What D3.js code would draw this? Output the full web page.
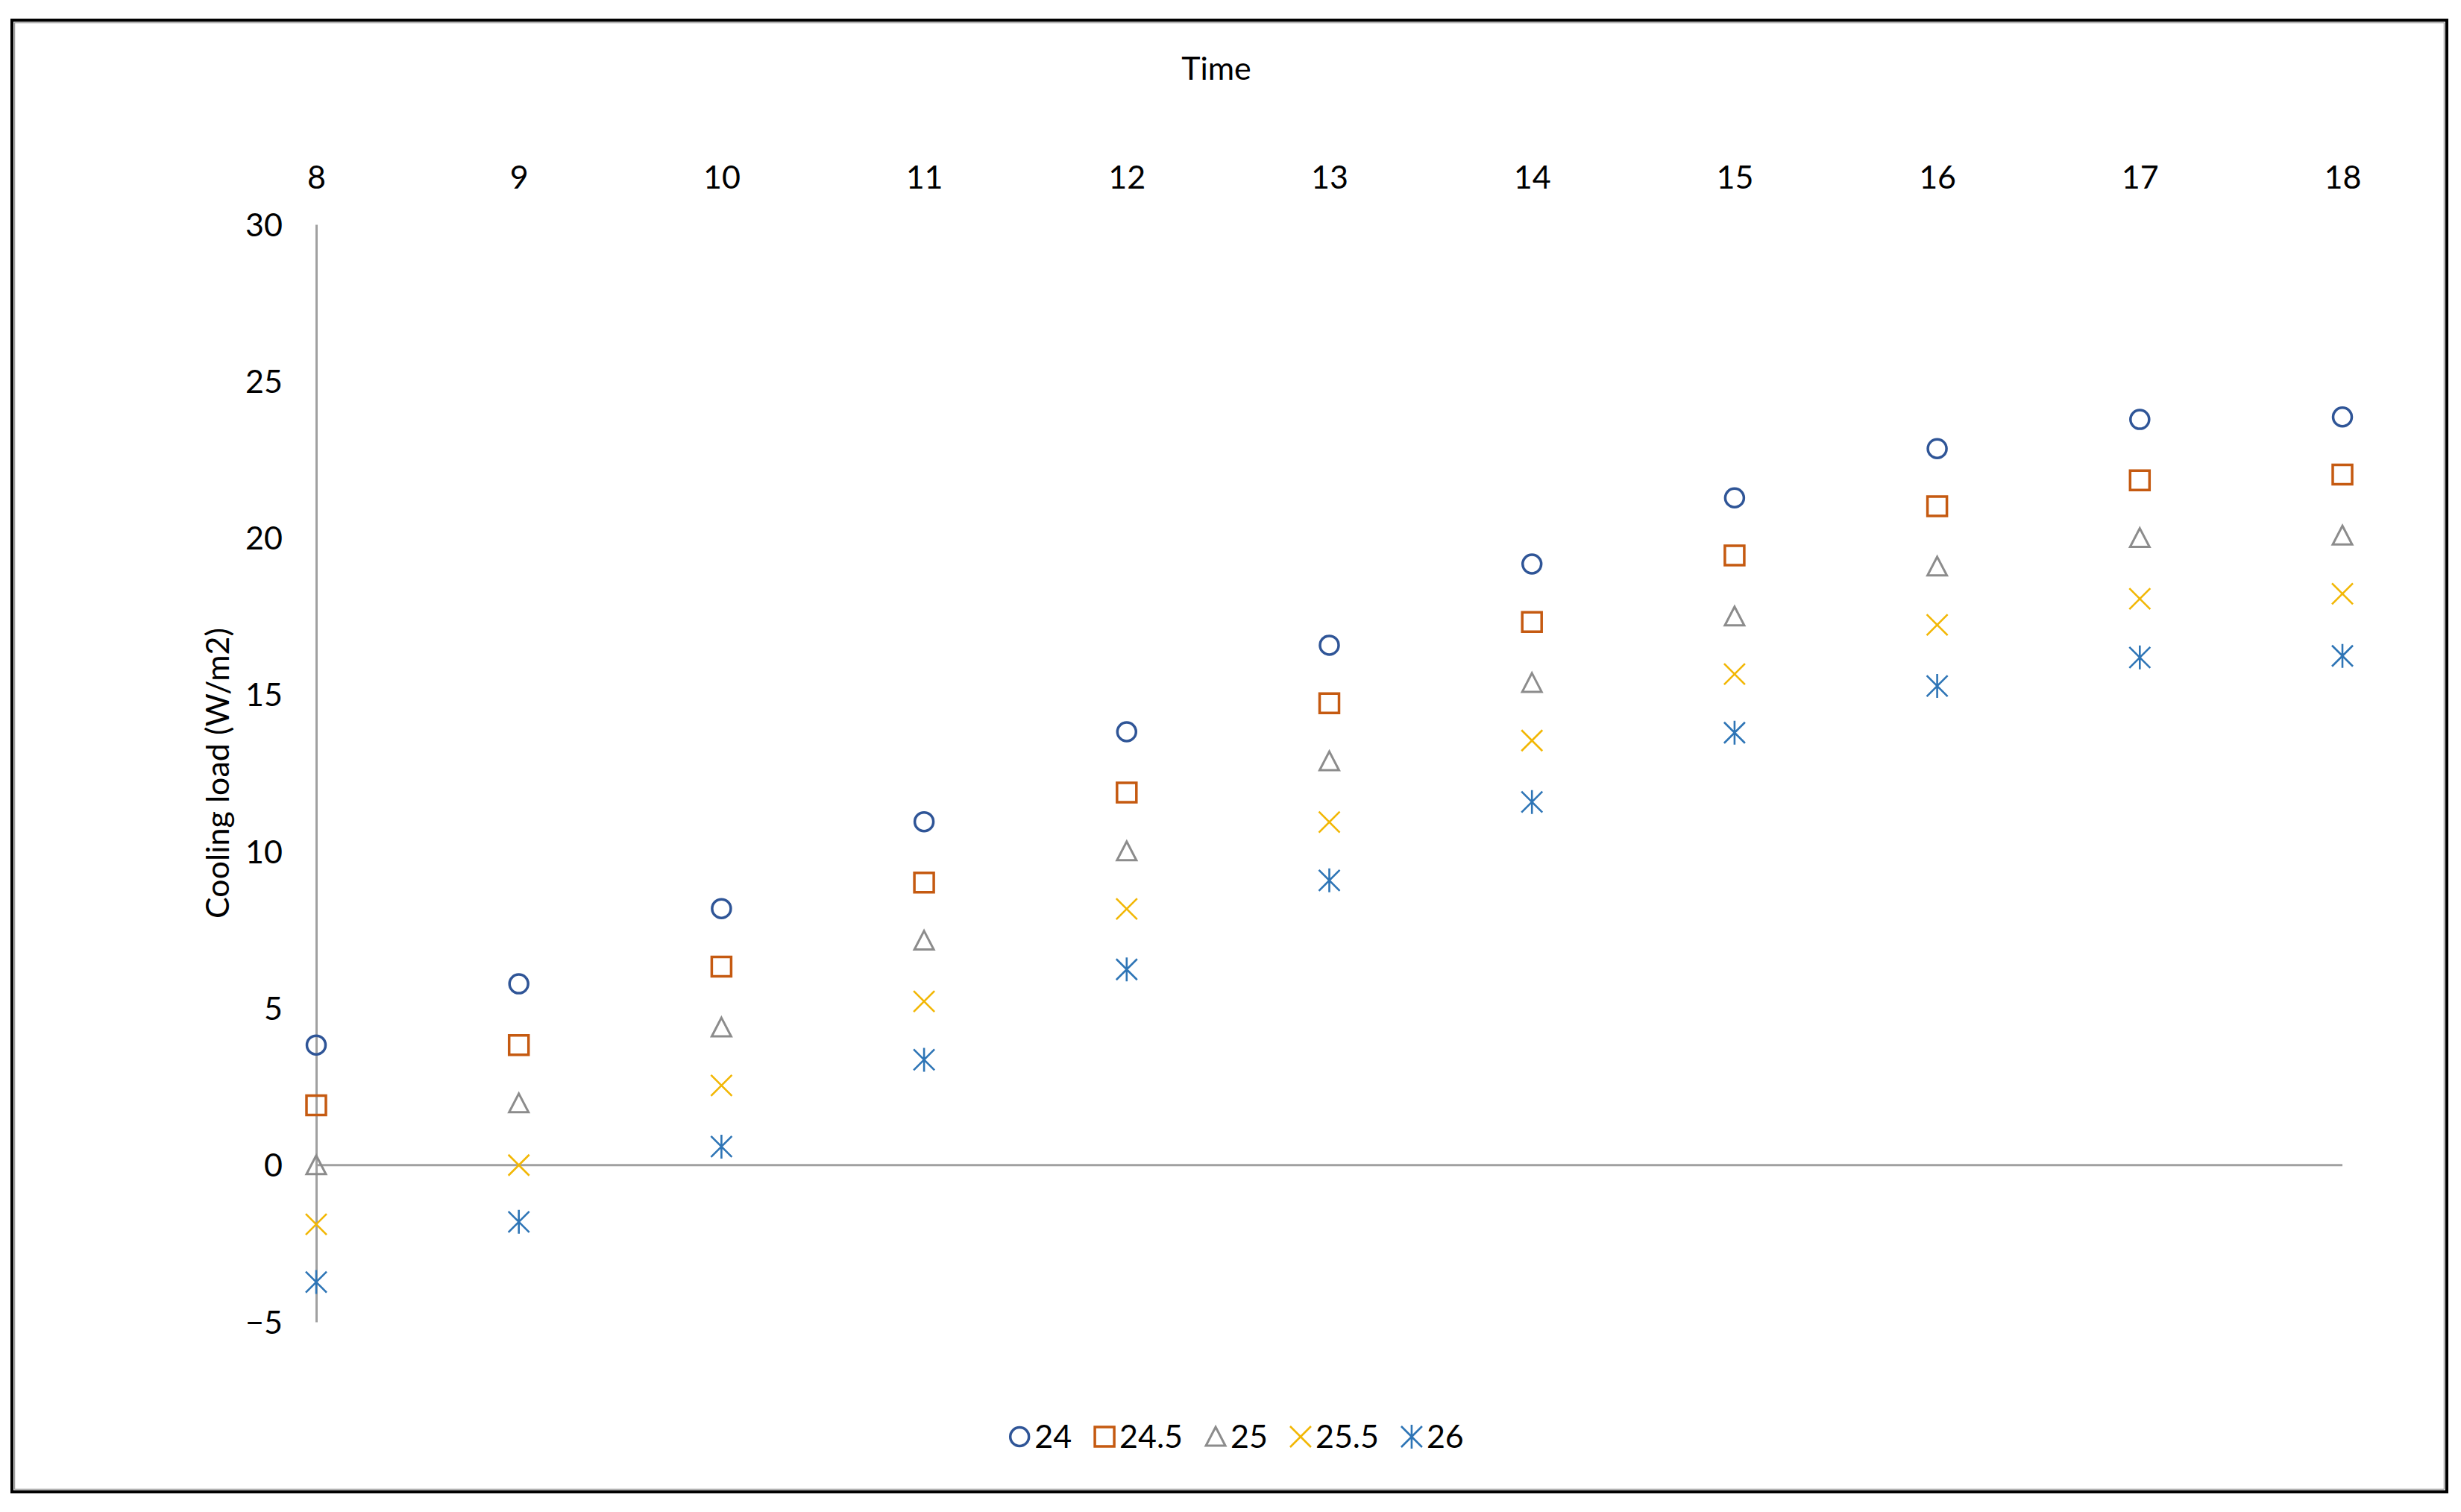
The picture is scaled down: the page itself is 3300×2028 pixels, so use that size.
<!DOCTYPE html>
<html>
<head>
<meta charset="utf-8">
<script src="https://cdn.jsdelivr.net/npm/d3@7"></script>
<style>
  html, body { margin: 0; padding: 0; background: #fff; }
  svg { display: block; }
  text { font-family: Lato, "Open Sans", "Liberation Sans", sans-serif; fill: #000; }
</style>
</head>
<body>
<svg id="chart" width="3300" height="2028"></svg>
<script>
// ---------------- data ----------------
const hours = [8, 9, 10, 11, 12, 13, 14, 15, 16, 17, 18];
const seriesNames = ["24", "24.5", "25", "25.5", "26"];
const s24   = [3.83, 5.78, 8.18, 10.95, 13.82, 16.58, 19.17, 21.28, 22.85, 23.78, 23.86];
const s24_5 = [1.91, 3.83, 6.33, 9.01, 11.88, 14.73, 17.32, 19.44, 21.01, 21.84, 22.02];
const s25   = [0.00, 1.97, 4.39, 7.16, 10.01, 12.88, 15.38, 17.50, 19.09, 20.00, 20.08];
const s25_5 = [-1.89, 0.00, 2.54, 5.22, 8.17, 10.94, 13.54, 15.66, 17.23, 18.06, 18.22];
const s26   = [-3.73, -1.81, 0.59, 3.36, 6.24, 9.08, 11.58, 13.79, 15.28, 16.19, 16.24];
const yTicks = [-5, 0, 5, 10, 15, 20, 25, 30];
const xTitle = "Time";
const yTitle = "Cooling load (W/m2)";

const seriesValues = [s24, s24_5, s25, s25_5, s26];
const shapes = ["circle", "square", "triangle", "x", "asterisk"];
const colors = ["#2F5597", "#C55A11", "#8C8C8C", "#F2B705", "#2E75B6"];

// ---------------- layout ----------------
const svg = d3.select("#chart");
const x = d3.scaleLinear().domain([8, 18]).range([424, 3141]);
const y = d3.scaleLinear().domain([-5, 30]).range([1773, 301]);
const FONT = 43;

// border
svg.append("rect").attr("x", 16).attr("y", 27).attr("width", 3265).attr("height", 1974)
  .attr("fill", "#fff").attr("stroke", "#000").attr("stroke-width", 4);
svg.append("rect").attr("x", 19.5).attr("y", 30.5).attr("width", 3258).attr("height", 1967)
  .attr("fill", "none").attr("stroke", "#9a9a9a").attr("stroke-width", 1.5);

// y axis (line at x=8, no ticks)
const yAxis = d3.axisLeft(y).tickValues(yTicks).tickSize(0).tickPadding(45)
  .tickFormat(d3.format("d"));
const gy = svg.append("g").attr("transform", `translate(${x(8)},0)`).call(yAxis);
gy.select(".domain").attr("stroke", "#A0A0A0").attr("stroke-width", 3);
gy.selectAll(".tick text").attr("font-size", FONT).attr("font-family", "Lato, sans-serif")
  .attr("fill", "#000").attr("dy", "0.35em");

// x axis line at y=0
svg.append("line").attr("x1", x(8)).attr("x2", x(18)).attr("y1", y(0)).attr("y2", y(0))
  .attr("stroke", "#A0A0A0").attr("stroke-width", 3);

// x tick labels at top
const xAxis = d3.axisTop(x).tickValues(hours).tickSize(0).tickPadding(0).tickFormat(d3.format("d"));
const gx = svg.append("g").attr("transform", `translate(0,238)`).call(xAxis);
gx.select(".domain").remove();
gx.selectAll(".tick text").attr("font-size", FONT).attr("font-family", "Lato, sans-serif")
  .attr("fill", "#000").attr("dy", "0.35em").attr("y", 0);

// titles
svg.append("text").attr("x", 1631).attr("y", 92).attr("dy", "0.35em")
  .attr("text-anchor", "middle").attr("font-size", FONT).text(xTitle);
svg.append("text").attr("transform", "translate(292,1037) rotate(-90)")
  .attr("dy", "0.35em").attr("text-anchor", "middle").attr("font-size", FONT).text(yTitle);

// ---------------- markers ----------------
function markerPath(shape) {
  const h = 13;
  switch (shape) {
    case "circle": { const p = d3.path(); p.moveTo(12.5, 0); p.arc(0, 0, 12.5, 0, 2 * Math.PI); p.closePath(); return p.toString(); }
    case "square": return `M${-h},${-h}H${h}V${h}H${-h}Z`;
    case "triangle": return `M0,${-h}L${h},${h - 1}H${-h}Z`;
    case "x": return `M${-14},${-14}L14,14M14,${-14}L${-14},14`;
    case "asterisk": return `M${-14},${-14}L14,14M14,${-14}L${-14},14M0,${-16}V16`;
  }
}
const strokeW = { circle: 3.5, square: 3.5, triangle: 3, x: 2.6, asterisk: 2.6 };

const points = [];
seriesValues.forEach((vals, si) => {
  vals.forEach((v, i) => points.push({ si, hour: hours[i], value: v }));
});

svg.append("g").selectAll("path").data(points).join("path")
  .attr("transform", d => `translate(${x(d.hour)},${y(d.value)})`)
  .attr("d", d => markerPath(shapes[d.si]))
  .attr("fill", "none")
  .attr("stroke", d => colors[d.si])
  .attr("stroke-width", d => strokeW[shapes[d.si]])
  .attr("stroke-linejoin", "miter");

// ---------------- legend ----------------
const legend = svg.append("g");
let cursor = 0;
const GAP = 30;
seriesNames.forEach((name, si) => {
  const g = legend.append("g");
  g.append("path").attr("d", markerPath(shapes[si])).attr("fill", "none")
    .attr("stroke", colors[si]).attr("stroke-width", strokeW[shapes[si]])
    .attr("transform", `translate(14,0)`);
  const t = g.append("text").attr("x", 34).attr("dy", "0.35em").attr("font-size", FONT).text(name);
  const w = 34 + t.node().getComputedTextLength();
  g.attr("transform", `translate(${cursor},0)`);
  cursor += w + GAP;
});
const totalW = cursor - GAP;
legend.attr("transform", `translate(${1658 - totalW / 2},1927)`);
</script>
</body>
</html>
